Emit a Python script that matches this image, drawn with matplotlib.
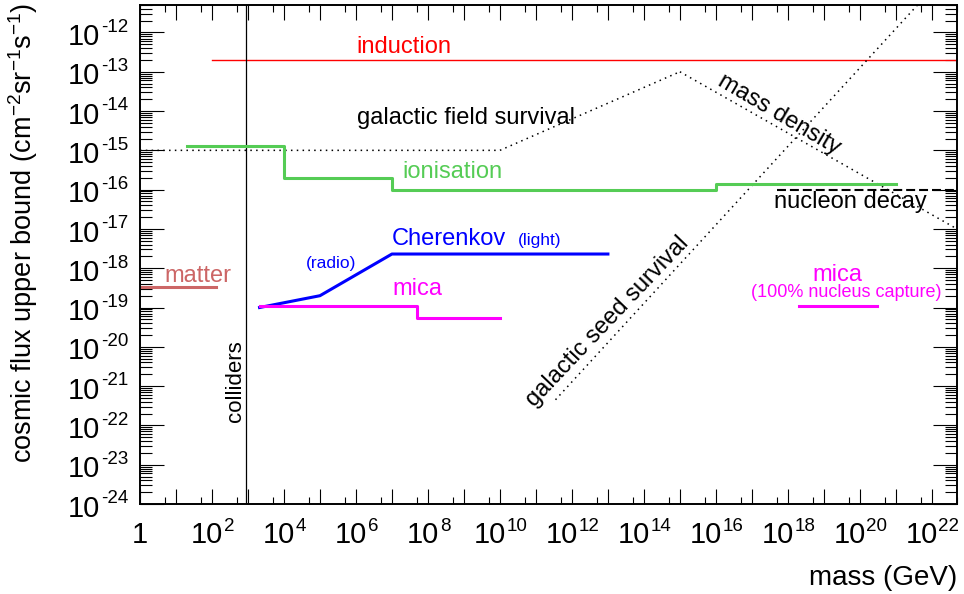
import numpy as np
import matplotlib
matplotlib.use('Agg')
import matplotlib.pyplot as plt
from matplotlib.ticker import FixedLocator, NullFormatter
from matplotlib.transforms import blended_transform_factory

plt.rcParams['font.family'] = ['Liberation Sans', 'DejaVu Sans']
plt.rcParams['mathtext.fontset'] = 'custom'
plt.rcParams['mathtext.rm'] = 'Liberation Sans'
plt.rcParams['mathtext.it'] = 'Liberation Sans:italic'
plt.rcParams['mathtext.bf'] = 'Liberation Sans:bold'

# limits (mass in GeV, flux in cm^-2 sr^-1 s^-1)
induction_x = [1e2, 5e22]
induction_y = [2e-13, 2e-13]
colliders_mass = 860
field_x = [1, 1e10, 1e15]
field_y = [1e-15, 1e-15, 1e-13]
density_x = [1e15, 5e22]
density_y = [1e-13, 1e-17]
seed_x = [3.5e11, 4e21]
seed_y = [4.5e-22, 5e-12]
ion_edges = [20, 1e4, 1e7, 1e16, 1e21]
ion_levels = [1.3e-15, 2e-16, 1e-16, 1.4e-16]
nucleon_x = [5e17, 5e22]
nucleon_y = [1e-16, 1e-16]
cherenkov_x = [2.1e3, 1e5, 1e7, 1e13]
cherenkov_y = [1e-19, 2e-19, 2.3e-18, 2.3e-18]
mica_edges = [2.15e3, 5e7, 1e10]
mica_levels = [1.1e-19, 5.5e-20]
capture_x = [2e18, 3e20]
capture_y = [1.1e-19, 1.1e-19]
matter_x = [1, 1.26e2]
matter_y = [3.3e-19, 3.3e-19]

x_label_exps = list(range(0, 23, 2))
y_label_exps = list(range(-24, -11))

green = '#55cc55'
dotted = (0, (1, 2.8))

fig = plt.figure(figsize=(9.64, 5.94), dpi=100)
ax = fig.add_axes([140/964, 90/594, 817/964, 499/594])
ax.set_xscale('log')
ax.set_yscale('log')

ax.plot(induction_x, induction_y, color='#ff0000', lw=1.0)
ax.axvline(colliders_mass, color='black', lw=0.9)
ax.plot(field_x, field_y, color='black', lw=1.1, ls=dotted)
ax.plot(density_x, density_y, color='black', lw=1.1, ls=dotted)
ax.plot(seed_x, seed_y, color='black', lw=1.1, ls=dotted)
ax.step(ion_edges, ion_levels + [ion_levels[-1]], where='post', color=green, lw=2.2)
ax.plot(nucleon_x, nucleon_y, color='black', lw=1.5, ls=(0, (4.3, 1.9)))
ax.plot(cherenkov_x, cherenkov_y, color='#0000ff', lw=2.2)
ax.step(mica_edges, mica_levels + [mica_levels[-1]], where='post', color='#ff00ff', lw=2.2)
ax.plot(capture_x, capture_y, color='#ff00ff', lw=2.2)
ax.plot(matter_x, matter_y, color='#cc6666', lw=2.2)

ax.set_xlim(1, 5e22)
ax.set_ylim(1e-24, 5e-12)

# ROOT-like ticks
ax.xaxis.set_major_locator(FixedLocator(10.0 ** np.arange(0, 23)))
ax.xaxis.set_minor_locator(FixedLocator(5 * 10.0 ** np.arange(0, 23)))
ax.yaxis.set_major_locator(FixedLocator(10.0 ** np.arange(-24, -11)))
ax.yaxis.set_minor_locator(FixedLocator(np.outer(10.0 ** np.arange(-24, -11), np.arange(2, 10)).ravel()))
for a in (ax.xaxis, ax.yaxis):
    a.set_major_formatter(NullFormatter())
    a.set_minor_formatter(NullFormatter())
ax.tick_params(which='both', direction='in', top=True, right=True, width=0.8)
ax.tick_params(axis='x', which='major', length=10.5)
ax.tick_params(axis='x', which='minor', length=5)
ax.tick_params(axis='y', which='major', length=17)
ax.tick_params(axis='y', which='minor', length=8.6)
for s in ax.spines.values():
    s.set_linewidth(1.4)

# tick labels "10" + small exponent
big, small = 21, 13.5
xt = blended_transform_factory(ax.transData, ax.transAxes)
for e in x_label_exps:
    if e == 0:
        ax.annotate('1', xy=(1, 0), xycoords=xt, xytext=(0, -28.3), textcoords='offset points',
                    ha='center', va='baseline', fontsize=big)
        continue
    s = str(e)
    w10 = 2 * 0.556 * big
    wexp = len(s) * 0.556 * small
    dx = (w10 - wexp) / 2
    ax.annotate('10', xy=(10.0 ** e, 0), xycoords=xt, xytext=(dx, -28.3), textcoords='offset points',
                ha='right', va='baseline', fontsize=big)
    ax.annotate(s, xy=(10.0 ** e, 0), xycoords=xt, xytext=(dx + 0.5, -28.3 + 9.2), textcoords='offset points',
                ha='left', va='baseline', fontsize=small)

yt = blended_transform_factory(ax.transAxes, ax.transData)
for e in y_label_exps:
    ax.annotate('10', xy=(0, 10.0 ** e), xycoords=yt, xytext=(-28.8, -9.1), textcoords='offset points',
                ha='right', va='baseline', fontsize=big)
    ax.annotate(str(e), xy=(0, 10.0 ** e), xycoords=yt, xytext=(-28.3, -9.1 + 9.6), textcoords='offset points',
                ha='left', va='baseline', fontsize=small)

ax.set_ylabel(r'cosmic flux upper bound (cm$^{-2}$sr$^{-1}$s$^{-1}$)', fontsize=19.5, loc='top')
ax.yaxis.set_label_coords(-0.122, 1.004)
ax.set_xlabel('mass (GeV)', fontsize=20, loc='right')
ax.xaxis.set_label_coords(1.0, -0.122)

# curve labels
ax.text(10**7.32, 10**-12.52, 'induction', color='#ff0000', fontsize=17, ha='center', va='baseline')
ax.text(10**9.06, 10**-14.32, 'galactic field survival', color='black', fontsize=17, ha='center', va='baseline')
ax.text(10**8.68, 10**-15.70, 'ionisation', color=green, fontsize=17, ha='center', va='baseline')
ax.text(10**8.58, 10**-17.40, 'Cherenkov', color='#0000ff', fontsize=17, ha='center', va='baseline')
ax.text(10**11.10, 10**-17.40, '(light)', color='#0000ff', fontsize=12.5, ha='center', va='baseline')
ax.text(10**5.31, 10**-17.99, '(radio)', color='#0000ff', fontsize=12.5, ha='center', va='baseline')
ax.text(10**7.70, 10**-18.67, 'mica', color='#ff00ff', fontsize=17, ha='center', va='baseline')
ax.text(10**1.62, 10**-18.34, 'matter', color='#cc6666', fontsize=17, ha='center', va='baseline')
ax.text(10**19.39, 10**-18.32, 'mica', color='#ff00ff', fontsize=17, ha='center', va='baseline')
ax.text(10**19.61, 10**-18.74, '(100% nucleus capture)', color='#ff00ff', fontsize=13, ha='center', va='baseline')
ax.text(10**19.75, 10**-16.47, 'nucleon decay', color='black', fontsize=17, ha='center', va='baseline')
ax.text(10**2.80, 10**-20.88, 'colliders', color='black', fontsize=16, rotation=90,
        rotation_mode='anchor', ha='center', va='baseline')
ax.text(10**17.75, 10**-14.09, 'mass density', color='black', fontsize=17, rotation=-30.5,
        rotation_mode='anchor', ha='center', va='center')
ax.text(10**13.0, 10**-19.36, 'galactic seed survival', color='black', fontsize=17, rotation=46.5,
        rotation_mode='anchor', ha='center', va='center')

fig.savefig('out.png', dpi=100, facecolor='white')
